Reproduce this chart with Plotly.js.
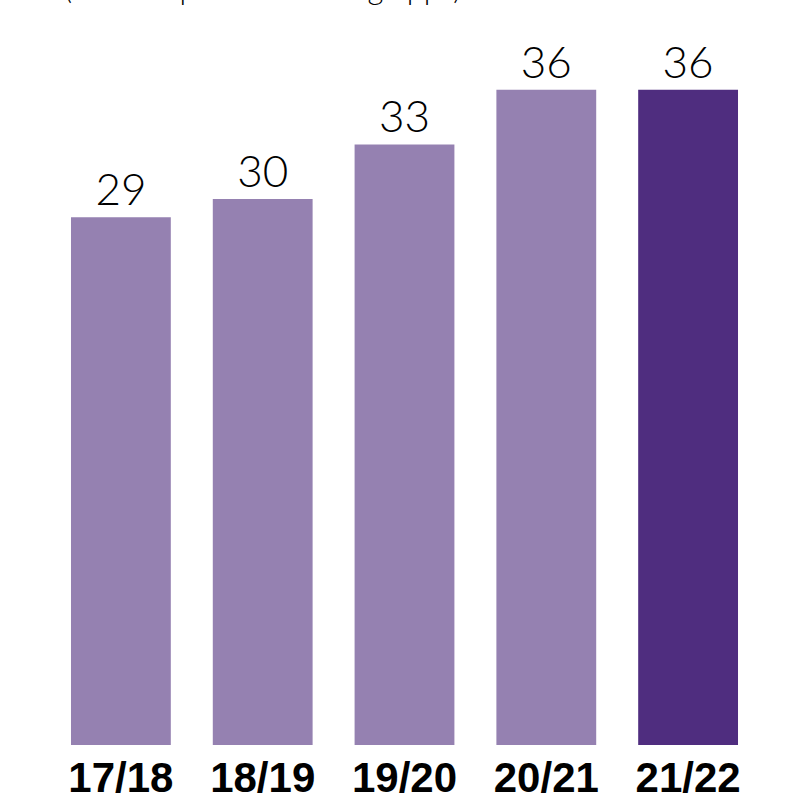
<!DOCTYPE html>
<html>
<head>
<meta charset="utf-8">
<script src="https://cdn.plot.ly/plotly-3.0.1.min.js"></script>
<style>html,body{margin:0;padding:0;background:#fff}#chart{width:790px;height:800px}</style>
</head>
<body>
<div id="chart"></div>
<script>
const categories = ["17/18", "18/19", "19/20", "20/21", "21/22"];
const values = [29, 30, 33, 36, 36];
const barColors = ["#9581b1", "#9581b1", "#9581b1", "#9581b1", "#4f2d7f"];
const titleText = "(% of respondents using apps)";

const trace = {
  type: "bar",
  x: categories,
  y: values,
  marker: {color: barColors, line: {width: 0}},
  text: values.map(String),
  textposition: "outside",
  cliponaxis: false,
  textfont: {family: "Lato, 'Open Sans', sans-serif", size: 44, color: "#000", weight: 300},
  hoverinfo: "none"
};

const layout = {
  width: 790, height: 800,
  margin: {l: 50, r: 31, t: 38, b: 55},
  paper_bgcolor: "#fff", plot_bgcolor: "#fff",
  bargap: 0.296,
  showlegend: false,
  annotations: [{
    text: titleText,
    xref: "paper", yref: "paper",
    x: 0.017, xanchor: "left",
    y: 1.0425, yanchor: "bottom",
    showarrow: false,
    font: {family: "Lato, sans-serif", size: 31, color: "#000", weight: 300}
  }],
  xaxis: {
    type: "category",
    showgrid: false, zeroline: false, showline: false, ticks: "",
    ticklabelstandoff: 4,
    tickfont: {family: "'Liberation Sans', Arial, sans-serif", size: 42, color: "#000", weight: 700}
  },
  yaxis: {
    range: [0, 38.85],
    showgrid: false, zeroline: false, showline: false, ticks: "", showticklabels: false
  }
};

Plotly.newPlot("chart", [trace], layout, {displayModeBar: false, staticPlot: true});
</script>
</body>
</html>
